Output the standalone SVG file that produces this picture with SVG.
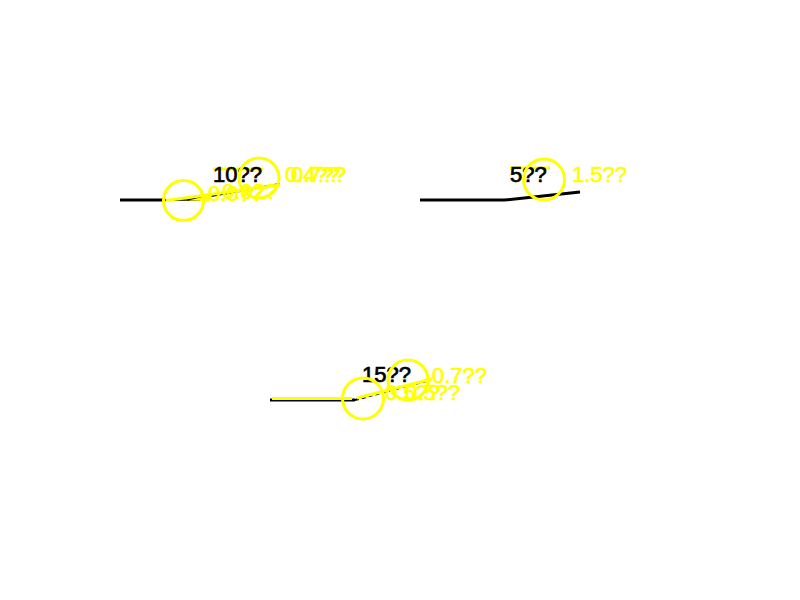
<svg xmlns="http://www.w3.org/2000/svg" width="800" height="600" viewBox="0 0 800 600">
<style>
.blk{stroke:#000;fill:none;stroke-linecap:butt}
.yl{stroke:#ffff00;fill:none;stroke-width:3}
.ball{stroke:#ffff00;fill:none;stroke-width:3}
.t{font-family:"Liberation Sans",Arial,sans-serif;font-size:22px;stroke-width:0.7}
.tb{fill:#000;stroke:#000}
.ty{fill:#ffff00;stroke:#ffff00}
</style>
<rect width="800" height="600" fill="#fff"/>
<g id="connectors">
<line class="blk" x1="120" y1="200" x2="164" y2="200" stroke-width="3"/>
<line class="blk" x1="164" y1="200" x2="200" y2="200" stroke-width="1.5"/>
<line class="blk" x1="188" y1="200" x2="280" y2="184" stroke-width="2"/>
<polygon points="188,200.5 210,195 210,201" fill="#ffff00"/>
<line class="yl" x1="166" y1="200.5" x2="280" y2="185"/>
<line class="yl" x1="213" y1="169" x2="263" y2="169"/>
<line class="blk" x1="420" y1="200" x2="505" y2="200" stroke-width="3"/>
<line class="blk" x1="505" y1="200" x2="580" y2="192" stroke-width="3"/>
<line class="yl" x1="510" y1="168" x2="550" y2="168"/>
<line class="blk" x1="270" y1="400" x2="355" y2="400" stroke-width="3"/>
<line class="yl" x1="272" y1="398.5" x2="352" y2="398.5"/>
<line class="blk" x1="355" y1="400" x2="430" y2="380" stroke-width="2" stroke-dasharray="4,3"/>
<line class="yl" x1="357" y1="398" x2="432" y2="379" stroke-width="3.5"/>
</g>
<g id="panel-10">
<text class="t tb" x="213" y="182">10??</text>
<circle id="ball-10a" class="ball" cx="183.5" cy="200.5" r="20"/>
<circle id="ball-10b" class="ball" cx="259" cy="178" r="20"/>
<text class="t ty" x="285" y="182">0.4??</text>
<text class="t ty" x="291" y="182">0.7??</text>
<text class="t ty" x="208" y="201">0.0??</text>
<text class="t ty" x="222" y="199">0.0??</text>
</g>
<g id="panel-5">
<text class="t tb" x="510" y="182">5??</text>
<circle id="ball-5" class="ball" cx="544" cy="179.5" r="20.5"/>
<text class="t ty" x="572" y="182">1.5??</text>
</g>
<g id="panel-15">
<text class="t tb" x="362" y="382">15??</text>
<circle id="ball-15a" class="ball" cx="363" cy="398.5" r="20.5"/>
<circle id="ball-15b" class="ball" cx="408" cy="380" r="20"/>
<text class="t ty" x="432" y="383">0.7??</text>
<text class="t ty" x="385" y="400">0.5??</text>
<text class="t ty" x="405" y="400">0.5??</text>
</g>
</svg>
